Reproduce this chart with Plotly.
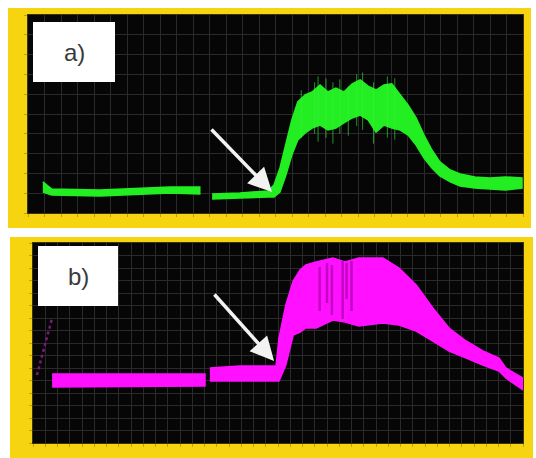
import plotly.graph_objects as go

# ---------------- data ----------------
# Panel a) green trace: envelope (upper / lower) per segment
a_seg1_x = [3.0, 4.8, 14.5, 22.6, 28.7, 34.7]
a_seg1_up = [15.7, 12.1, 11.6, 12.6, 13.1, 13.1]
a_seg1_lo = [10.6, 9.1, 8.6, 9.6, 10.1, 9.6]

a_seg2_x = [37.2, 42.8, 48.5, 49.7, 50.9, 52.1, 53.3, 54.5, 56.0, 57.4, 59.0, 60.6,
            62.2, 63.8, 65.5, 67.1, 68.7, 70.3, 71.9, 73.5, 75.2, 76.8, 78.4, 80.0,
            81.6, 83.2, 85.3, 87.3, 90.3, 93.3, 96.4, 99.8]
a_seg2_up = [9.6, 10.1, 11.1, 14.1, 22.7, 34.3, 47.0, 56.1, 59.6, 61.1, 64.6, 61.1,
             63.1, 61.1, 65.2, 67.2, 64.1, 62.1, 64.6, 65.2, 59.6, 54.5, 48.0, 39.4,
             31.8, 25.8, 21.7, 19.7, 18.2, 17.7, 18.2, 17.7]
a_seg2_lo = [7.1, 7.6, 8.1, 8.1, 10.6, 19.2, 29.3, 36.9, 40.4, 42.9, 44.4, 41.9,
             42.9, 45.5, 48.0, 49.5, 47.0, 40.9, 44.4, 42.9, 41.9, 39.4, 34.3, 27.8,
             22.7, 18.7, 15.7, 13.6, 12.6, 12.1, 11.6, 12.6]

# noise spikes on the green plateau
a_spike_x = [55.2, 57.9, 58.6, 60.2, 61.6, 63.0, 64.7, 66.4, 67.6, 69.8, 72.6, 74.1]
a_spike_top = [62.0, 66.0, 69.0, 68.0, 66.0, 67.5, 64.0, 70.0, 71.0, 66.0, 69.0, 68.0]
a_spike_bot = [38.0, 40.0, 36.0, 38.0, 35.0, 40.0, 39.0, 44.0, 42.0, 35.0, 38.0, 37.0]

# Panel b) magenta trace
b_start_x = [0.8, 3.9]
b_start_y = [34.0, 62.5]

b_seg1_x = [3.9, 35.1]
b_seg1_up = [34.5, 34.5]
b_seg1_lo = [28.0, 28.5]

b_seg2_x = [36.1, 42.2, 49.6, 50.2, 51.6, 53.1, 54.5, 55.7, 57.8, 61.2, 63.7, 66.5,
            71.4, 74.7, 78.2, 81.6, 84.9, 88.4, 91.8, 95.1, 96.5, 100.0]
b_seg2_up = [37.5, 38.5, 38.5, 52.5, 69.0, 81.0, 86.5, 89.0, 90.5, 92.5, 90.5, 92.5,
             92.5, 87.5, 79.0, 67.5, 57.5, 51.0, 46.0, 42.5, 37.5, 32.5]
b_seg2_lo = [31.0, 31.0, 31.0, 31.0, 39.0, 54.0, 55.5, 57.5, 57.5, 61.5, 60.5, 58.5,
             60.0, 59.0, 56.0, 51.0, 46.0, 42.5, 39.0, 36.0, 32.5, 26.5]

# darker streaks inside the magenta plateau
b_dark_x = [58.5, 60.0, 61.0, 63.2, 64.0, 65.0]
b_dark_top = [88.0, 90.0, 89.0, 91.0, 90.0, 91.0]
b_dark_bot = [66.0, 70.0, 64.0, 62.0, 72.0, 66.0]

labels = ["a)", "b)"]

GREEN = "#22ee22"
MAGENTA = "#ff10ff"
YELLOW = "#f6d510"

fig = go.Figure()


def band(x, up, lo, color, xa, ya):
    fig.add_trace(go.Scatter(
        x=list(x) + list(x)[::-1], y=list(up) + list(lo)[::-1],
        fill="toself", fillcolor=color, mode="lines",
        line=dict(color=color, width=1.5), xaxis=xa, yaxis=ya,
        hoverinfo="skip", showlegend=False))


def spikes(x, top, bot, color, width, xa, ya):
    xs, ys = [], []
    for xi, t, b in zip(x, top, bot):
        xs += [xi, xi, None]
        ys += [b, t, None]
    fig.add_trace(go.Scatter(x=xs, y=ys, mode="lines",
                             line=dict(color=color, width=width),
                             xaxis=xa, yaxis=ya, hoverinfo="skip", showlegend=False))


band(a_seg1_x, a_seg1_up, a_seg1_lo, GREEN, "x", "y")
band(a_seg2_x, a_seg2_up, a_seg2_lo, GREEN, "x", "y")
spikes(a_spike_x, a_spike_top, a_spike_bot, "rgba(60,240,60,0.6)", 1, "x", "y")

fig.add_trace(go.Scatter(x=b_start_x, y=b_start_y, mode="lines",
                         line=dict(color="#7a1a7a", width=2.5, dash="dot"),
                         xaxis="x2", yaxis="y2", hoverinfo="skip", showlegend=False))
band(b_seg1_x, b_seg1_up, b_seg1_lo, MAGENTA, "x2", "y2")
band(b_seg2_x, b_seg2_up, b_seg2_lo, MAGENTA, "x2", "y2")
spikes(b_dark_x, b_dark_top, b_dark_bot, "rgba(120,0,120,0.45)", 2.5, "x2", "y2")

W, H = 536, 458


def px2paper_x(p):
    return p / W


def px2paper_y(p):
    return 1 - p / H


# yellow frames, then black plotting areas on top of them (both beneath grid)
for (x0, y0, x1, y1) in [(8, 8, 531, 228), (10, 237, 533, 458)]:
    fig.add_shape(type="rect", xref="paper", yref="paper",
                  x0=px2paper_x(x0), x1=px2paper_x(x1),
                  y0=px2paper_y(y1), y1=px2paper_y(y0),
                  fillcolor=YELLOW, line=dict(width=0), layer="below")
for (x0, y0, x1, y1) in [(28, 15, 523, 213), (33, 243, 523, 443)]:
    fig.add_shape(type="rect", xref="paper", yref="paper",
                  x0=px2paper_x(x0), x1=px2paper_x(x1),
                  y0=px2paper_y(y1), y1=px2paper_y(y0),
                  fillcolor="#060606", line=dict(width=0), layer="below")

axis_common = dict(showticklabels=False, zeroline=False, ticks="outside", ticklen=3,
                   tickcolor="#c9a000", tickwidth=1, showline=True,
                   linecolor="#3a3410", linewidth=1, mirror=True,
                   gridcolor="#2a2a2a", gridwidth=1)

fig.update_layout(
    width=W, height=H, margin=dict(l=0, r=0, t=0, b=0),
    paper_bgcolor="white", plot_bgcolor="#060606",
    xaxis=dict(domain=[px2paper_x(28), px2paper_x(523)], range=[0, 100], dtick=100 / 30,
               anchor="y", **axis_common),
    yaxis=dict(domain=[px2paper_y(213), px2paper_y(15)], range=[0, 100], dtick=10,
               anchor="x", **axis_common),
    xaxis2=dict(domain=[px2paper_x(33), px2paper_x(523)], range=[0, 100], dtick=2.5,
                anchor="y2", **axis_common),
    yaxis2=dict(domain=[px2paper_y(443), px2paper_y(243)], range=[0, 100], dtick=6.25,
                anchor="x2", **axis_common),
)

# label boxes
for (x0, y0, x1, y1), lab in zip([(33, 22, 115, 82), (38, 246, 118, 306)], labels):
    fig.add_shape(type="rect", xref="paper", yref="paper",
                  x0=px2paper_x(x0), x1=px2paper_x(x1),
                  y0=px2paper_y(y1), y1=px2paper_y(y0),
                  fillcolor="white", line=dict(width=0), layer="above")
    fig.add_annotation(xref="paper", yref="paper",
                       x=px2paper_x((x0 + x1) / 2), y=px2paper_y((y0 + y1) / 2),
                       xanchor="center", yanchor="middle",
                       text=lab, showarrow=False,
                       font=dict(family="Liberation Sans, Arial", size=24, color="#3a3a3a"))

# arrows
fig.add_annotation(xref="x", yref="y", x=49.3, y=10.6, ax=-62, ay=-64, text="",
                   showarrow=True, arrowhead=2, arrowsize=1.35, arrowwidth=3.5,
                   arrowcolor="#f2f2f2")
fig.add_annotation(xref="x2", yref="y2", x=49.2, y=41.0, ax=-61, ay=-68, text="",
                   showarrow=True, arrowhead=2, arrowsize=1.35, arrowwidth=3.5,
                   arrowcolor="#f2f2f2")

fig.write_html("out.html", config={"displayModeBar": False},
               post_script="document.body.style.margin='0';document.body.style.overflow='hidden';")
